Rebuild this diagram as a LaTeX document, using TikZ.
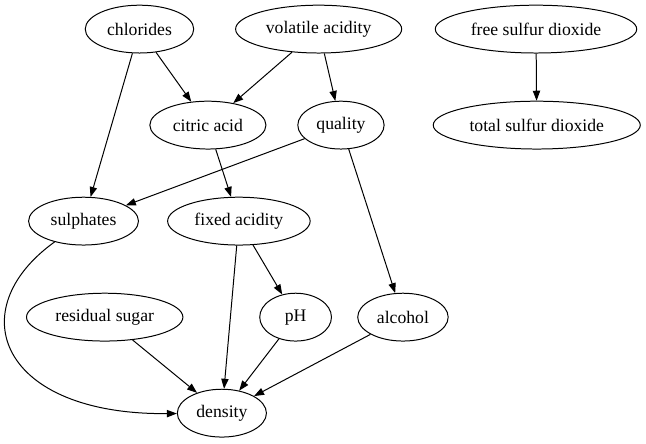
\documentclass[tikz,border=0pt]{standalone}
\usepackage{fontspec}
\setmainfont{Liberation Serif}
\usetikzlibrary{arrows.meta,shapes.geometric}

\begin{document}
\begin{tikzpicture}[vertex/.style={draw,ellipse,line width=0.75pt,
    minimum width=54pt,minimum height=36pt,inner xsep=4.5pt,inner ysep=0pt,
    font=\rmfamily\fontsize{13.3}{16}\selectfont},
  edge/.style={line width=0.75pt,-{Triangle[length=7.5pt,width=5.5pt]}}]
\useasboundingbox (0,0) rectangle (17.09,11.72);
            % Vertices
\node[vertex] (chl) at (3.69,10.95) {chlorides};
\node[vertex] (vol) at (8.43,10.95) {volatile acidity};
\node[vertex] (free) at (14.18,10.95) {free sulfur dioxide};
\node[vertex] (cit) at (5.50,8.41) {citric acid};
\node[vertex] (qual) at (9.02,8.41) {quality};
\node[vertex] (total) at (14.20,8.41) {total sulfur dioxide};
\node[vertex] (sulph) at (2.21,5.87) {sulphates};
\node[vertex] (fix) at (6.32,5.87) {fixed acidity};
\node[vertex] (res) at (2.77,3.33) {residual sugar};
\node[vertex] (ph) at (7.82,3.33) {pH};
\node[vertex] (alc) at (10.66,3.33) {alcohol};
\node[vertex] (dens) at (5.87,0.79) {density};
%Edges
\draw[edge] (chl) -- (cit);
\draw[edge] (chl) -- (sulph);
\draw[edge] (vol) -- (cit);
\draw[edge] (vol) -- (qual);
\draw[edge] (free) -- (total);
\draw[edge] (qual) -- (sulph);
\draw[edge] (qual) -- (alc);
\draw[edge] (cit) -- (fix);
\draw[edge] (fix) -- (ph);
\draw[edge] (fix) -- (dens);
\draw[edge] (res) -- (dens);
\draw[edge] (ph) -- (dens);
\draw[edge] (alc) -- (dens);
%Curved edge
\draw[edge] (sulph) .. controls (-1.06,3.52) and (0,0.74) .. (dens);
          \end{tikzpicture}
\end{document}
